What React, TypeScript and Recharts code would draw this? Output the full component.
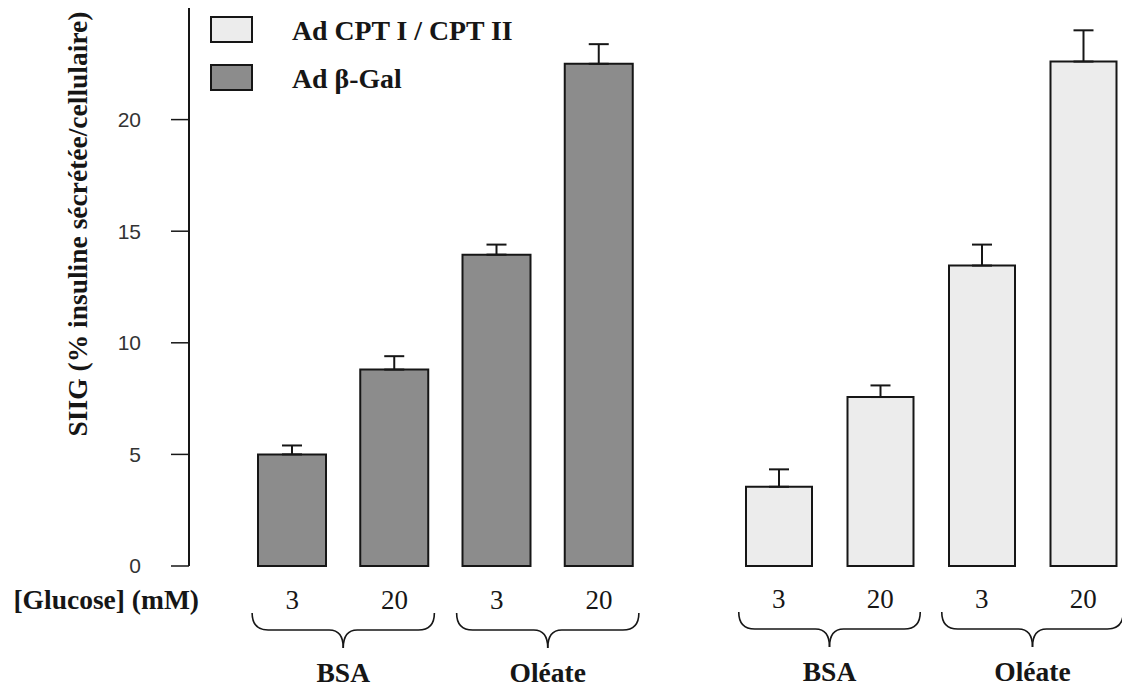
import React from 'react';
import { Bar, BarChart, ErrorBar, Label, Legend, XAxis, YAxis } from 'recharts';

// values
const glucose = ['3', '20', '3', '20'];
const treatment = ['BSA', 'BSA', 'Oléate', 'Oléate'];
const galMean = [5.0, 8.8, 13.95, 22.5];
const galSem = [0.4, 0.6, 0.45, 0.88];
const cptMean = [3.55, 7.57, 13.46, 22.6];
const cptSem = [0.78, 0.52, 0.94, 1.4];
const yTicks = [0, 5, 10, 15, 20];
const seriesNames = ['Ad CPT I / CPT II', 'Ad β-Gal'];

const data = glucose.map((g, i) => ({
  key: `${treatment[i]}-${g}`,
  gal: galMean[i],
  galErr: [0, galSem[i]],
  cpt: cptMean[i],
  cptErr: [0, cptSem[i]],
}));

const serif = '"Liberation Serif", "Times New Roman", serif';
const sans = '"Liberation Sans", Arial, sans-serif';
const ink = '#161616';

const renderTick = (props: any) => {
  const { x, y, payload, index } = props;
  const half = payload && payload.offset ? payload.offset : 51;
  const first = index % 2 === 0;
  const tipY = y + 46;
  const hy = y + 63;
  const py = y + 81;
  let d: string;
  if (first) {
    const tx = x - 40;
    const px = x + half;
    d = `M${tx},${tipY} Q${tx},${hy} ${tx + 16},${hy} L${px - 14},${hy} Q${px},${hy} ${px},${py}`;
  } else {
    const tx = x + 40;
    const px = x - half;
    d = `M${px},${py} Q${px},${hy} ${px + 14},${hy} L${tx - 16},${hy} Q${tx},${hy} ${tx},${tipY}`;
  }
  return (
    <g>
      <text x={x} y={y + 42} textAnchor="middle" fontFamily={serif} fontSize={27} fill={ink}>
        {glucose[index]}
      </text>
      <path d={d} fill="none" stroke={ink} strokeWidth={1.6} />
      {first && (
        <text x={x + half} y={y + 115} textAnchor="middle" fontFamily={serif} fontWeight="bold" fontSize={27.5} fill={ink}>
          {treatment[index]}
        </text>
      )}
    </g>
  );
};

const renderGlucoseLabel = (props: any) => {
  const vb = props.viewBox || { x: 189, y: 566 };
  return (
    <text x={vb.x + 10} y={vb.y + 42} textAnchor="end" fontFamily={serif} fontWeight="bold" fontSize={27.5} fill={ink}>
      [Glucose] (mM)
    </text>
  );
};

const renderYLabel = (props: any) => {
  const vb = props.viewBox || { x: 0, y: 8 };
  const x = vb.x + 87;
  const y = vb.y + 216;
  return (
    <text
      x={x}
      y={y}
      transform={`rotate(-90, ${x}, ${y})`}
      textAnchor="middle"
      fontFamily={serif}
      fontWeight="bold"
      fontSize={27.5}
      fill={ink}
    >
      SIIG (% insuline sécrétée/cellulaire)
    </text>
  );
};

const renderLegend = (props: any) => {
  const items = [...(props.payload || [])].sort(
    (a: any, b: any) => seriesNames.indexOf(a.value) - seriesNames.indexOf(b.value)
  );
  return (
    <svg width={560} height={100} style={{ display: 'block' }}>
      {items.map((entry: any, i: number) => (
        <g key={entry.value}>
          <rect x={211} y={17 + i * 48} width={41} height={25} fill={entry.color} stroke={ink} strokeWidth={2} />
          <text x={292} y={39.5 + i * 48} fontFamily={serif} fontWeight="bold" fontSize={27.8} fill={ink}>
            {entry.value}
          </text>
        </g>
      ))}
    </svg>
  );
};

export default function App() {
  return (
    <div style={{ position: 'absolute', left: 0, top: 0, width: 1122, height: 687, overflow: 'hidden', background: '#fff' }}>
      <BarChart width={1140} height={687} data={data} margin={{ top: 8, right: 0, bottom: 0, left: 0 }}>
        <XAxis
          xAxisId="gal"
          dataKey="key"
          height={120}
          padding={{ left: 52, right: 490 }}
          axisLine={false}
          tickLine={false}
          tickSize={0}
          tickMargin={0}
          interval={0}
          tick={renderTick}
        >
          <Label content={renderGlucoseLabel} />
        </XAxis>
        <XAxis
          xAxisId="cpt"
          dataKey="key"
          height={1}
          padding={{ left: 539, right: 6 }}
          axisLine={false}
          tickLine={false}
          tickSize={0}
          tickMargin={0}
          interval={0}
          tick={renderTick}
        />
        <YAxis
          width={189}
          domain={[0, 25]}
          ticks={yTicks}
          interval={0}
          axisLine={{ stroke: ink, strokeWidth: 2 }}
          tickLine={{ stroke: ink, strokeWidth: 1.5 }}
          tickSize={18}
          tickMargin={30}
          tick={{ fontFamily: sans, fontSize: 21, fill: '#333' }}
        >
          <Label content={renderYLabel} />
        </YAxis>
        <Legend
          layout="horizontal"
          verticalAlign="middle"
          align="center"
          wrapperStyle={{ top: 0, left: 0, width: 560, height: 100 }}
          content={renderLegend}
        />
        <Bar
          xAxisId="cpt"
          dataKey="cpt"
          name="Ad CPT I / CPT II"
          fill="#ececec"
          stroke={ink}
          strokeWidth={2}
          barSize={66}
          isAnimationActive={false}
        >
          <ErrorBar dataKey="cptErr" width={10} stroke={ink} strokeWidth={2} isAnimationActive={false} />
        </Bar>
        <Bar
          xAxisId="gal"
          dataKey="gal"
          name="Ad β-Gal"
          fill="#8c8c8c"
          stroke={ink}
          strokeWidth={2}
          barSize={68}
          isAnimationActive={false}
        >
          <ErrorBar dataKey="galErr" width={10} stroke={ink} strokeWidth={2} isAnimationActive={false} />
        </Bar>
      </BarChart>
    </div>
  );
}
